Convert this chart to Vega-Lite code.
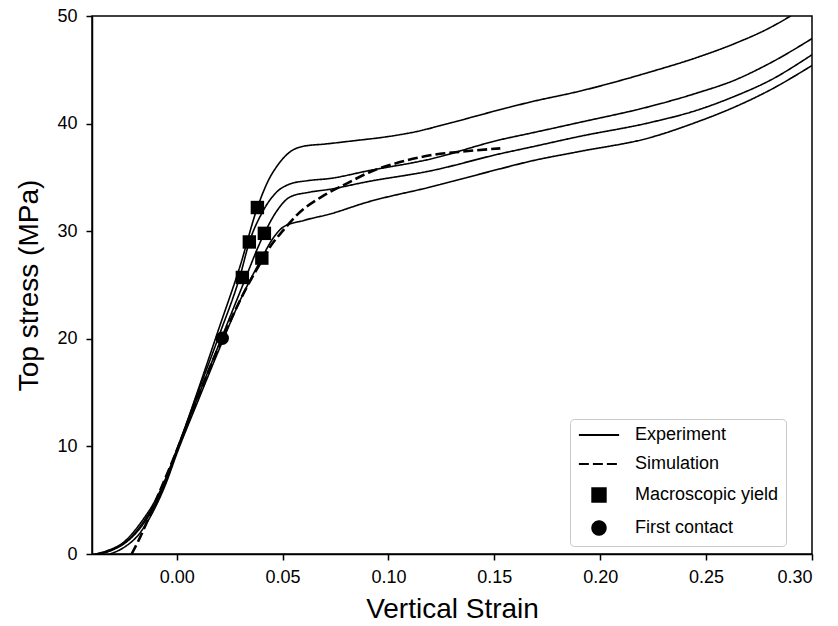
{
  "$schema": "https://vega.github.io/schema/vega-lite/v6.json",
  "width": 720,
  "height": 538,
  "autosize": {"type": "none"},
  "padding": {"left": 92, "top": 16, "right": 26, "bottom": 72},
  "config": {
    "font": "Liberation Sans",
    "view": {"stroke": "black", "strokeWidth": 1.5},
    "axis": {
      "domainColor": "black", "domainWidth": 1.5,
      "tickColor": "black", "tickWidth": 1.5, "tickSize": 6,
      "grid": false, "labelFontSize": 18, "labelColor": "black",
      "titleFontSize": 28, "titleFontWeight": "normal", "titleColor": "black"
    },
    "legend": {
      "orient": "none", "legendX": 478, "legendY": 403,
      "labelFontSize": 18, "labelColor": "black",
      "symbolSize": 180, "symbolStrokeWidth": 2,
      "symbolFillColor": "black", "symbolStrokeColor": "black",
      "padding": 7, "rowPadding": 11,
      "strokeColor": "#c8c8c8", "cornerRadius": 4,
      "symbolOffset": 13, "labelOffset": 27
    }
  },
  "datasets": {
    "curves": [
      {"series": "Experiment", "curve": "A", "strain": -0.0385, "stress": 0},
      {"series": "Experiment", "curve": "A", "strain": -0.033, "stress": 0.3},
      {"series": "Experiment", "curve": "A", "strain": -0.025, "stress": 1.1},
      {"series": "Experiment", "curve": "A", "strain": -0.017, "stress": 2.9},
      {"series": "Experiment", "curve": "A", "strain": -0.009, "stress": 5.4},
      {"series": "Experiment", "curve": "A", "strain": 0, "stress": 9.6},
      {"series": "Experiment", "curve": "A", "strain": 0.01, "stress": 15.2},
      {"series": "Experiment", "curve": "A", "strain": 0.02, "stress": 21.0},
      {"series": "Experiment", "curve": "A", "strain": 0.03, "stress": 26.8},
      {"series": "Experiment", "curve": "A", "strain": 0.0381, "stress": 32.2},
      {"series": "Experiment", "curve": "A", "strain": 0.0435, "stress": 34.8},
      {"series": "Experiment", "curve": "A", "strain": 0.0472, "stress": 36.0},
      {"series": "Experiment", "curve": "A", "strain": 0.0537, "stress": 37.4},
      {"series": "Experiment", "curve": "A", "strain": 0.06, "stress": 37.9},
      {"series": "Experiment", "curve": "A", "strain": 0.07, "stress": 38.1},
      {"series": "Experiment", "curve": "A", "strain": 0.0834, "stress": 38.4},
      {"series": "Experiment", "curve": "A", "strain": 0.1, "stress": 38.8},
      {"series": "Experiment", "curve": "A", "strain": 0.1118, "stress": 39.2},
      {"series": "Experiment", "curve": "A", "strain": 0.13, "stress": 40.1},
      {"series": "Experiment", "curve": "A", "strain": 0.1528, "stress": 41.3},
      {"series": "Experiment", "curve": "A", "strain": 0.1669, "stress": 42.0},
      {"series": "Experiment", "curve": "A", "strain": 0.19, "stress": 43.0},
      {"series": "Experiment", "curve": "A", "strain": 0.2236, "stress": 44.8},
      {"series": "Experiment", "curve": "A", "strain": 0.245, "stress": 46.1},
      {"series": "Experiment", "curve": "A", "strain": 0.263, "stress": 47.4},
      {"series": "Experiment", "curve": "A", "strain": 0.28, "stress": 48.9},
      {"series": "Experiment", "curve": "A", "strain": 0.289, "stress": 49.9},
      {"series": "Experiment", "curve": "A", "strain": 0.293, "stress": 50.4},
      {"series": "Experiment", "curve": "B", "strain": -0.038, "stress": 0},
      {"series": "Experiment", "curve": "B", "strain": -0.031, "stress": 0.35},
      {"series": "Experiment", "curve": "B", "strain": -0.023, "stress": 1.3},
      {"series": "Experiment", "curve": "B", "strain": -0.015, "stress": 3.2},
      {"series": "Experiment", "curve": "B", "strain": -0.008, "stress": 5.6},
      {"series": "Experiment", "curve": "B", "strain": 0, "stress": 9.7},
      {"series": "Experiment", "curve": "B", "strain": 0.01, "stress": 15.0},
      {"series": "Experiment", "curve": "B", "strain": 0.02, "stress": 20.3},
      {"series": "Experiment", "curve": "B", "strain": 0.03, "stress": 25.9},
      {"series": "Experiment", "curve": "B", "strain": 0.0343, "stress": 29.0},
      {"series": "Experiment", "curve": "B", "strain": 0.04, "stress": 31.6},
      {"series": "Experiment", "curve": "B", "strain": 0.047, "stress": 33.6},
      {"series": "Experiment", "curve": "B", "strain": 0.0537, "stress": 34.4},
      {"series": "Experiment", "curve": "B", "strain": 0.062, "stress": 34.7},
      {"series": "Experiment", "curve": "B", "strain": 0.0724, "stress": 34.9},
      {"series": "Experiment", "curve": "B", "strain": 0.09, "stress": 35.6},
      {"series": "Experiment", "curve": "B", "strain": 0.1197, "stress": 36.7},
      {"series": "Experiment", "curve": "B", "strain": 0.1528, "stress": 38.5},
      {"series": "Experiment", "curve": "B", "strain": 0.1669, "stress": 39.1},
      {"series": "Experiment", "curve": "B", "strain": 0.19, "stress": 40.1},
      {"series": "Experiment", "curve": "B", "strain": 0.2236, "stress": 41.6},
      {"series": "Experiment", "curve": "B", "strain": 0.245, "stress": 42.8},
      {"series": "Experiment", "curve": "B", "strain": 0.263, "stress": 44.0},
      {"series": "Experiment", "curve": "B", "strain": 0.28, "stress": 45.6},
      {"series": "Experiment", "curve": "B", "strain": 0.3, "stress": 47.9},
      {"series": "Experiment", "curve": "C", "strain": -0.037, "stress": 0},
      {"series": "Experiment", "curve": "C", "strain": -0.03, "stress": 0.4},
      {"series": "Experiment", "curve": "C", "strain": -0.022, "stress": 1.4},
      {"series": "Experiment", "curve": "C", "strain": -0.014, "stress": 3.3},
      {"series": "Experiment", "curve": "C", "strain": -0.007, "stress": 5.8},
      {"series": "Experiment", "curve": "C", "strain": 0, "stress": 9.5},
      {"series": "Experiment", "curve": "C", "strain": 0.01, "stress": 14.6},
      {"series": "Experiment", "curve": "C", "strain": 0.02, "stress": 19.5},
      {"series": "Experiment", "curve": "C", "strain": 0.03, "stress": 24.4},
      {"series": "Experiment", "curve": "C", "strain": 0.0414, "stress": 29.8},
      {"series": "Experiment", "curve": "C", "strain": 0.047, "stress": 31.8},
      {"series": "Experiment", "curve": "C", "strain": 0.0537, "stress": 33.2},
      {"series": "Experiment", "curve": "C", "strain": 0.062, "stress": 33.6},
      {"series": "Experiment", "curve": "C", "strain": 0.0724, "stress": 33.9},
      {"series": "Experiment", "curve": "C", "strain": 0.09, "stress": 34.6},
      {"series": "Experiment", "curve": "C", "strain": 0.1197, "stress": 35.6},
      {"series": "Experiment", "curve": "C", "strain": 0.1528, "stress": 37.2},
      {"series": "Experiment", "curve": "C", "strain": 0.1669, "stress": 37.8},
      {"series": "Experiment", "curve": "C", "strain": 0.19, "stress": 38.8},
      {"series": "Experiment", "curve": "C", "strain": 0.2236, "stress": 40.1},
      {"series": "Experiment", "curve": "C", "strain": 0.245, "stress": 41.2},
      {"series": "Experiment", "curve": "C", "strain": 0.263, "stress": 42.5},
      {"series": "Experiment", "curve": "C", "strain": 0.28, "stress": 44.0},
      {"series": "Experiment", "curve": "C", "strain": 0.3, "stress": 46.4},
      {"series": "Experiment", "curve": "D", "strain": -0.0315, "stress": 0},
      {"series": "Experiment", "curve": "D", "strain": -0.025, "stress": 0.6},
      {"series": "Experiment", "curve": "D", "strain": -0.018, "stress": 1.8},
      {"series": "Experiment", "curve": "D", "strain": -0.011, "stress": 4.0},
      {"series": "Experiment", "curve": "D", "strain": -0.005, "stress": 6.6},
      {"series": "Experiment", "curve": "D", "strain": 0, "stress": 9.3},
      {"series": "Experiment", "curve": "D", "strain": 0.01, "stress": 14.2},
      {"series": "Experiment", "curve": "D", "strain": 0.02, "stress": 19.0},
      {"series": "Experiment", "curve": "D", "strain": 0.03, "stress": 23.6},
      {"series": "Experiment", "curve": "D", "strain": 0.0402, "stress": 27.5},
      {"series": "Experiment", "curve": "D", "strain": 0.045, "stress": 29.2},
      {"series": "Experiment", "curve": "D", "strain": 0.0504, "stress": 30.4},
      {"series": "Experiment", "curve": "D", "strain": 0.06, "stress": 31.0},
      {"series": "Experiment", "curve": "D", "strain": 0.0724, "stress": 31.6},
      {"series": "Experiment", "curve": "D", "strain": 0.09, "stress": 32.7},
      {"series": "Experiment", "curve": "D", "strain": 0.1197, "stress": 34.1},
      {"series": "Experiment", "curve": "D", "strain": 0.1528, "stress": 35.8},
      {"series": "Experiment", "curve": "D", "strain": 0.1669, "stress": 36.5},
      {"series": "Experiment", "curve": "D", "strain": 0.19, "stress": 37.4},
      {"series": "Experiment", "curve": "D", "strain": 0.2236, "stress": 38.7},
      {"series": "Experiment", "curve": "D", "strain": 0.245, "stress": 40.1},
      {"series": "Experiment", "curve": "D", "strain": 0.263, "stress": 41.5},
      {"series": "Experiment", "curve": "D", "strain": 0.28, "stress": 43.1},
      {"series": "Experiment", "curve": "D", "strain": 0.3, "stress": 45.4},
      {"series": "Simulation", "curve": "S", "strain": -0.0213, "stress": 0},
      {"series": "Simulation", "curve": "S", "strain": -0.0173, "stress": 1.55},
      {"series": "Simulation", "curve": "S", "strain": -0.01, "stress": 4.9},
      {"series": "Simulation", "curve": "S", "strain": 0, "stress": 9.6},
      {"series": "Simulation", "curve": "S", "strain": 0.01, "stress": 14.6},
      {"series": "Simulation", "curve": "S", "strain": 0.0215, "stress": 20.0},
      {"series": "Simulation", "curve": "S", "strain": 0.0331, "stress": 24.8},
      {"series": "Simulation", "curve": "S", "strain": 0.0394, "stress": 27.0},
      {"series": "Simulation", "curve": "S", "strain": 0.045, "stress": 28.8},
      {"series": "Simulation", "curve": "S", "strain": 0.0504, "stress": 30.1},
      {"series": "Simulation", "curve": "S", "strain": 0.0567, "stress": 31.5},
      {"series": "Simulation", "curve": "S", "strain": 0.0693, "stress": 33.3},
      {"series": "Simulation", "curve": "S", "strain": 0.08, "stress": 34.4},
      {"series": "Simulation", "curve": "S", "strain": 0.0913, "stress": 35.5},
      {"series": "Simulation", "curve": "S", "strain": 0.105, "stress": 36.4},
      {"series": "Simulation", "curve": "S", "strain": 0.1197, "stress": 37.05},
      {"series": "Simulation", "curve": "S", "strain": 0.135, "stress": 37.4},
      {"series": "Simulation", "curve": "S", "strain": 0.1528, "stress": 37.7}
    ],
    "markers": [
      {"series": "Macroscopic yield", "strain": 0.0381, "stress": 32.2},
      {"series": "Macroscopic yield", "strain": 0.0343, "stress": 29.0},
      {"series": "Macroscopic yield", "strain": 0.0414, "stress": 29.8},
      {"series": "Macroscopic yield", "strain": 0.0402, "stress": 27.5},
      {"series": "Macroscopic yield", "strain": 0.031, "stress": 25.7},
      {"series": "First contact", "strain": 0.0215, "stress": 20.05}
    ]
  },
  "layer": [
    {
      "data": {"name": "curves"},
      "mark": {"type": "line", "interpolate": "monotone", "clip": true, "color": "black"},
      "encoding": {
        "x": {
          "field": "strain", "type": "quantitative",
          "scale": {"domain": [-0.04, 0.3], "nice": false, "zero": false},
          "axis": {
            "values": [0, 0.05, 0.1, 0.15, 0.2, 0.25, 0.3], "format": ".2f",
            "title": "Vertical Strain", "labelPadding": 8,
            "titleY": 63, "titleBaseline": "alphabetic"
          }
        },
        "y": {
          "field": "stress", "type": "quantitative",
          "scale": {"domain": [0, 50], "nice": false},
          "axis": {
            "values": [0, 10, 20, 30, 40, 50], "format": "d",
            "title": "Top stress (MPa)", "labelPadding": 9,
            "titleX": -55, "titleY": 269, "titleAngle": -90,
            "titleBaseline": "alphabetic", "titleAlign": "center"
          }
        },
        "detail": {"field": "curve"},
        "strokeDash": {
          "field": "series", "type": "nominal",
          "scale": {
            "domain": ["Experiment", "Simulation", "Macroscopic yield", "First contact"],
            "range": [[1, 0], [10, 4], [1, 0], [1, 0]]
          },
          "legend": {
            "title": null,
            "encode": {"symbols": {"update": {"stroke": {"value": "black"}, "strokeWidth": {"value": 2}, "fill": {"value": "black"}}}}
          }
        },
        "strokeWidth": {
          "field": "series", "type": "nominal",
          "scale": {"domain": ["Experiment", "Simulation"], "range": [1.6, 2.6]},
          "legend": null
        }
      }
    },
    {
      "data": {"name": "markers"},
      "mark": {"type": "point", "filled": true, "color": "black", "size": 180, "opacity": 1},
      "encoding": {
        "x": {"field": "strain", "type": "quantitative"},
        "y": {"field": "stress", "type": "quantitative"},
        "shape": {
          "field": "series", "type": "nominal",
          "scale": {
            "domain": ["Experiment", "Simulation", "Macroscopic yield", "First contact"],
            "range": ["M-3,0H3", "M-3,0H3", "square", "circle"]
          },
          "legend": {
            "title": null,
            "encode": {"symbols": {"update": {"stroke": {"value": "black"}, "strokeWidth": {"value": 2}, "fill": {"value": "black"}}}}
          }
        }
      }
    }
  ]
}
